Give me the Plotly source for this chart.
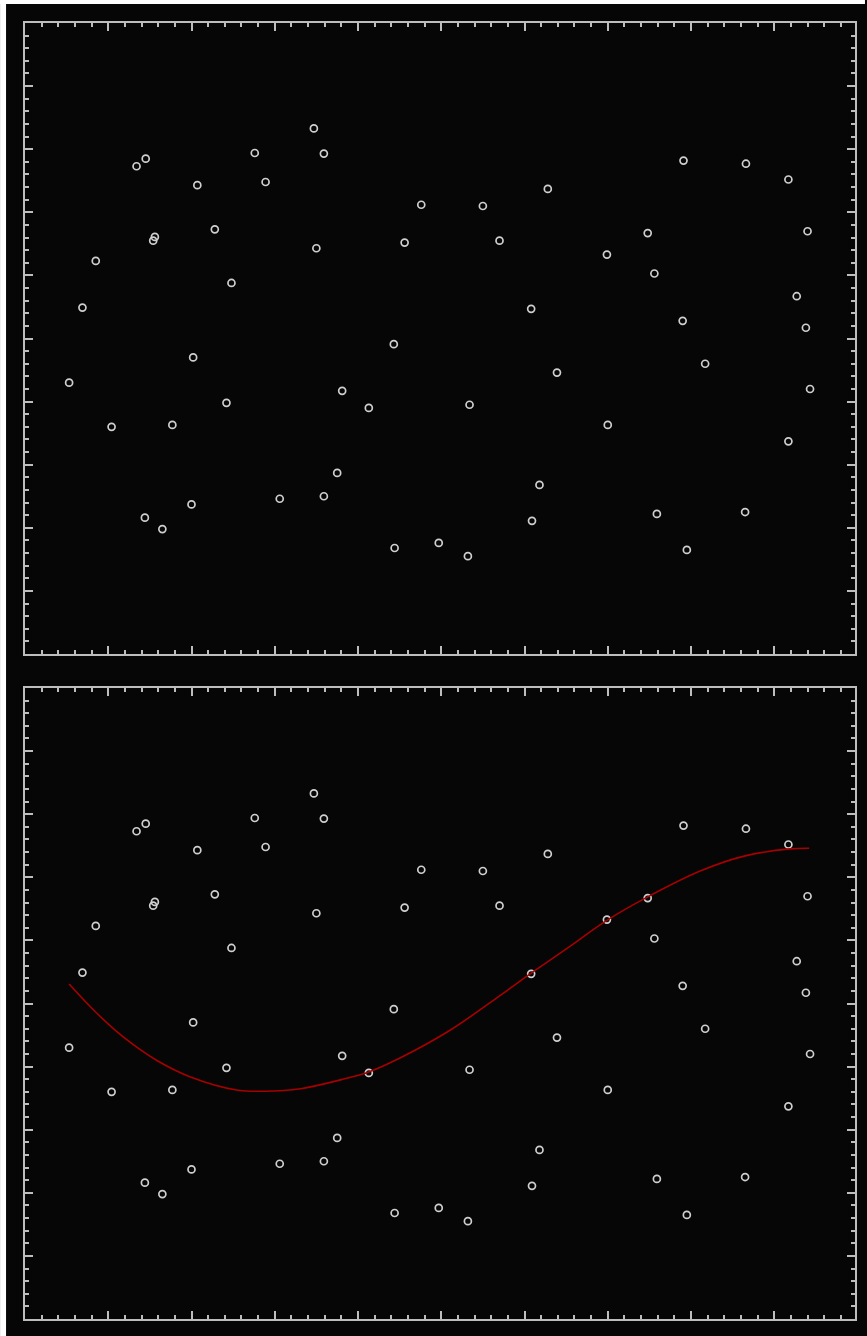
import plotly.graph_objects as go
from plotly.subplots import make_subplots

# Scatter sample (same points in both panels)
x_pts = [0.53, 0.69, 0.85, 1.04, 1.34, 1.45, 1.44, 1.54, 1.56, 1.65,
         1.77, 2.00, 2.02, 2.07, 2.28, 2.42, 2.48, 2.76, 2.89, 3.06,
         3.47, 3.50, 3.59, 3.59, 3.75, 3.81, 4.13, 4.43, 4.44, 4.56,
         4.76, 4.97, 5.32, 5.34, 5.50, 5.70, 6.08, 6.09, 6.18, 6.28,
         6.39, 6.99, 7.00, 7.48, 7.56, 7.59, 7.91, 7.90, 7.95, 8.17,
         8.65, 8.66, 9.17, 9.17, 9.27, 9.38, 9.40, 9.43]
y_pts = [4.30, 5.49, 6.23, 3.60, 7.73, 7.85, 2.16, 6.55, 6.61, 1.98,
         3.63, 2.37, 4.70, 7.43, 6.73, 3.98, 5.88, 7.94, 7.48, 2.46,
         8.33, 6.43, 7.93, 2.50, 2.87, 4.17, 3.90, 4.91, 1.68, 6.52,
         7.12, 1.76, 1.55, 3.95, 7.10, 6.55, 5.47, 2.11, 2.68, 7.37,
         4.46, 6.33, 3.63, 6.67, 6.03, 2.22, 7.82, 5.28, 1.65, 4.60,
         2.25, 7.77, 7.52, 3.37, 5.67, 5.17, 6.70, 4.20]

# Smooth trend curve for the lower panel
x_fit = [0.53, 0.86, 1.18, 1.58, 1.98, 2.54, 2.88, 3.31, 3.79, 4.12, 4.51,
         5.11, 5.71, 6.08, 6.55, 6.98, 7.48, 8.11, 8.65, 9.19, 9.42]
y_fit = [5.31, 4.85, 4.47, 4.10, 3.84, 3.63, 3.61, 3.65, 3.79, 3.91, 4.14,
         4.58, 5.13, 5.48, 5.91, 6.31, 6.69, 7.10, 7.34, 7.45, 7.46]

BG = "#060606"
FRAME = "#bdbdbd"
MARK = "#cfcfcf"

fig = make_subplots(rows=2, cols=1, vertical_spacing=34 / 1296)

for row in (1, 2):
    fig.add_trace(go.Scatter(
        x=x_pts, y=y_pts, mode="markers",
        marker=dict(symbol="circle-open", size=7, color=MARK,
                    line=dict(width=1.7, color=MARK)),
        showlegend=False, hoverinfo="skip"), row=row, col=1)

fig.add_trace(go.Scatter(
    x=x_fit, y=y_fit, mode="lines",
    line=dict(color="#a80000", width=1.6, shape="spline", smoothing=1.0),
    showlegend=False, hoverinfo="skip"), row=2, col=1)

axis_common = dict(
    showgrid=False, zeroline=False, showticklabels=False,
    showline=True, linecolor=FRAME, linewidth=2, mirror="allticks",
    ticks="inside", ticklen=8, tickwidth=1.5, tickcolor=FRAME,
)
fig.update_xaxes(range=[0, 9.97], dtick=1, tick0=0,
                 minor=dict(ticks="inside", ticklen=4, tickwidth=1.5,
                            tickcolor=FRAME, dtick=0.2, tick0=0, showgrid=False),
                 **axis_common)
fig.update_yaxes(range=[0, 10], dtick=1, tick0=0,
                 minor=dict(ticks="inside", ticklen=4, tickwidth=1.5,
                            tickcolor=FRAME, dtick=0.2, tick0=0, showgrid=False),
                 **axis_common)

W, H = 867, 1336
ml, mr, mt, mb = 25, 10, 23, 17
pw, ph = W - ml - mr, H - mt - mb


def px_x(p):
    return (p - ml) / pw


def px_y(p):
    return (H - mb - p) / ph


# thin white strips along the top and left page edges
fig.add_shape(type="rect", xref="paper", yref="paper", layer="above",
              x0=px_x(0), x1=px_x(6), y0=px_y(H), y1=px_y(0),
              fillcolor="white", line=dict(width=0))
fig.add_shape(type="rect", xref="paper", yref="paper", layer="above",
              x0=px_x(0), x1=px_x(W), y0=px_y(4), y1=px_y(0),
              fillcolor="white", line=dict(width=0))

fig.update_layout(
    width=W, height=H,
    margin=dict(l=ml, r=mr, t=mt, b=mb),
    paper_bgcolor=BG, plot_bgcolor=BG,
    showlegend=False,
)

fig.write_html("out.html")
